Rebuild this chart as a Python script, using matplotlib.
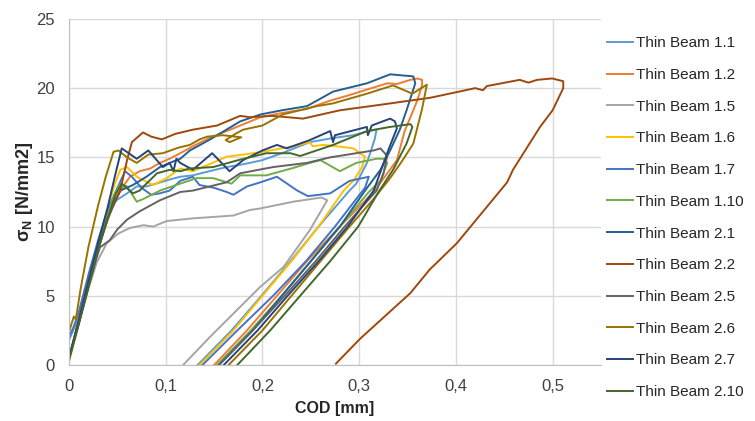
import matplotlib.pyplot as plt
from matplotlib.ticker import FuncFormatter

plt.rcParams['font.family'] = ['Liberation Sans', 'DejaVu Sans']

# test data: crack opening displacement [mm] and nominal stress [N/mm2]
cod_1_1 = [0, 0.01, 0.02, 0.03, 0.038, 0.042, 0.049, 0.06, 0.07, 0.08, 0.09, 0.104, 0.115, 0.128, 0.145, 0.163, 0.18, 0.2, 0.22, 0.249, 0.273, 0.294, 0.31, 0.318,
           0.316, 0.308, 0.297, 0.29, 0.258, 0.229, 0.199, 0.168, 0.133]
sn_1_1 = [1.8, 3.4, 6.0, 8.6, 10.3, 11.4, 11.9, 12.4, 12.9, 12.9, 13.1, 13.4, 13.6, 13.7, 14.0, 14.3, 14.5, 14.8, 15.3, 16.1, 16.4, 16.6, 16.9, 17.0,
          16.3, 14.6, 13.1, 12.6, 10.0, 7.5, 5.0, 2.5, 0]

cod_1_2 = [0, 0.01, 0.02, 0.03, 0.04, 0.05, 0.058, 0.063, 0.073, 0.084, 0.094, 0.104, 0.115, 0.128, 0.145, 0.163, 0.177, 0.198, 0.22, 0.246, 0.27, 0.29, 0.308, 0.329, 0.339, 0.353, 0.36, 0.365, 0.365,
           0.36, 0.353, 0.347, 0.339, 0.315, 0.28, 0.246, 0.215, 0.184, 0.15]
sn_1_2 = [0.5, 3.2, 5.8, 8.5, 10.8, 12.2, 13.1, 13.6, 14.0, 14.2, 14.6, 14.9, 15.3, 15.8, 16.4, 16.9, 17.3, 17.9, 18.2, 18.5, 19.1, 19.5, 19.9, 20.35, 20.3, 20.6, 20.7, 20.6, 20.2,
          19.1, 17.9, 16.9, 14.8, 12.5, 10.0, 7.5, 5.0, 2.5, 0]

cod_1_5 = [0, 0.01, 0.02, 0.0286, 0.039, 0.051, 0.063, 0.077, 0.087, 0.101, 0.129, 0.15, 0.17, 0.187, 0.197, 0.232, 0.261, 0.267,
           0.249, 0.222, 0.197, 0.187, 0.146, 0.118]
sn_1_5 = [0.5, 3.0, 5.5, 7.4, 8.8, 9.5, 9.9, 10.1, 10.0, 10.4, 10.6, 10.7, 10.8, 11.2, 11.3, 11.8, 12.1, 11.9,
          9.75, 7.1, 5.6, 4.9, 2.05, 0]

cod_1_6 = [0, 0.01, 0.02, 0.03, 0.04, 0.047, 0.053, 0.06, 0.07, 0.084, 0.087, 0.101, 0.115, 0.128, 0.145, 0.163, 0.18, 0.2, 0.232, 0.249, 0.252, 0.263, 0.277, 0.294, 0.299, 0.306,
           0.303, 0.295, 0.284, 0.277, 0.258, 0.23, 0.2, 0.17, 0.135]
sn_1_6 = [0.5, 3.2, 6.0, 8.8, 11.3, 13.0, 14.1, 14.3, 13.6, 13.1, 13.0, 13.5, 14.2, 14.0, 14.5, 15.05, 15.2, 15.4, 15.8, 16.1, 15.8, 15.9, 15.8, 15.65, 15.4, 15.05,
          14.3, 13.4, 12.6, 11.9, 10.0, 7.5, 5.0, 2.5, 0]

cod_1_7 = [0, 0.005, 0.01, 0.02, 0.03, 0.04, 0.05, 0.058, 0.065, 0.075, 0.085, 0.094, 0.104, 0.115, 0.128, 0.135, 0.15, 0.163, 0.17, 0.184, 0.198, 0.215, 0.236, 0.247, 0.27, 0.29, 0.31,
           0.306, 0.297, 0.275, 0.245, 0.211, 0.174, 0.138]
sn_1_7 = [2.0, 2.8, 3.8, 6.5, 9.0, 11.2, 12.8, 14.0, 13.6, 12.8, 12.3, 12.4, 12.6, 13.3, 13.6, 13.0, 12.8, 12.5, 12.3, 12.9, 13.2, 13.6, 12.6, 12.2, 12.4, 13.3, 13.6,
          12.8, 12.0, 10.0, 7.5, 5.0, 2.5, 0]

cod_1_10 = [0, 0.01, 0.02, 0.03, 0.04, 0.047, 0.053, 0.06, 0.07, 0.077, 0.094, 0.115, 0.132, 0.149, 0.168, 0.177, 0.204, 0.23, 0.249, 0.26, 0.28, 0.297, 0.318, 0.325, 0.329,
            0.322, 0.31, 0.28, 0.25, 0.22, 0.188, 0.153]
sn_1_10 = [0.5, 3.0, 5.7, 8.4, 10.8, 12.3, 13.1, 12.9, 11.8, 12.0, 12.6, 13.1, 13.5, 13.5, 13.1, 13.7, 13.7, 14.2, 14.6, 14.8, 14.0, 14.6, 14.9, 14.9, 14.6,
           13.3, 12.5, 10.0, 7.5, 5.0, 2.5, 0]

cod_2_1 = [0, 0.01, 0.02, 0.03, 0.04, 0.053, 0.066, 0.08, 0.094, 0.104, 0.115, 0.125, 0.146, 0.177, 0.198, 0.22, 0.246, 0.273, 0.308, 0.332, 0.356, 0.358,
           0.349, 0.342, 0.332, 0.322, 0.305, 0.28, 0.25, 0.22, 0.19, 0.155]
sn_2_1 = [0.5, 3.0, 5.7, 8.3, 10.6, 12.6, 13.0, 13.6, 14.3, 14.6, 14.9, 15.5, 16.3, 17.6, 18.1, 18.4, 18.7, 19.75, 20.35, 21.0, 20.85, 20.35,
          18.4, 17.0, 15.5, 14.1, 12.5, 10.0, 7.5, 5.0, 2.5, 0]

cod_2_2 = [0, 0.01, 0.02, 0.03, 0.04, 0.047, 0.053, 0.06, 0.065, 0.0765, 0.085, 0.096, 0.11, 0.128, 0.153, 0.177, 0.187, 0.21, 0.242, 0.28, 0.322, 0.373, 0.42, 0.428, 0.432, 0.466, 0.475, 0.484, 0.4995, 0.511, 0.511,
           0.5, 0.487, 0.459, 0.453, 0.401, 0.373, 0.353, 0.301, 0.276]
sn_2_2 = [0.5, 3.2, 6.0, 8.5, 10.5, 11.8, 12.6, 14.8, 16.1, 16.8, 16.5, 16.3, 16.7, 17.0, 17.3, 18.0, 17.9, 18.0, 17.8, 18.4, 18.8, 19.3, 20.0, 19.85, 20.15, 20.6, 20.4, 20.6, 20.7, 20.5, 20.0,
          18.4, 17.2, 14.1, 13.2, 8.8, 6.9, 5.2, 1.9, 0.1]

cod_2_5 = [0, 0.01, 0.02, 0.027, 0.032, 0.042, 0.05, 0.06, 0.073, 0.094, 0.115, 0.128, 0.163, 0.177, 0.211, 0.246, 0.27, 0.297, 0.315, 0.322, 0.329,
           0.325, 0.318, 0.285, 0.255, 0.223, 0.19, 0.155]
sn_2_5 = [0.5, 3.0, 5.6, 7.4, 8.5, 9.0, 9.8, 10.5, 11.1, 11.9, 12.5, 12.6, 13.2, 13.85, 14.3, 14.6, 15.0, 15.3, 15.5, 15.65, 15.1,
          13.8, 12.6, 10.0, 7.5, 5.0, 2.5, 0]

cod_2_6 = [0, 0.005, 0.007, 0.012, 0.02, 0.03, 0.038, 0.046, 0.051, 0.06, 0.07, 0.082, 0.097, 0.113, 0.125, 0.135, 0.143, 0.159, 0.178, 0.166, 0.162, 0.172, 0.18, 0.2, 0.221, 0.256, 0.273, 0.308, 0.335, 0.355, 0.37,
           0.365, 0.356, 0.345, 0.332, 0.315, 0.29, 0.26, 0.23, 0.2, 0.165]
sn_2_6 = [2.4, 3.5, 3.3, 5.5, 8.5, 11.5, 13.6, 15.4, 15.5, 15.0, 14.6, 15.2, 15.3, 15.7, 15.9, 16.3, 16.5, 16.6, 16.45, 16.1, 16.25, 16.7, 17.0, 17.3, 18.1, 18.7, 18.9, 19.6, 20.2, 19.6, 20.25,
          18.5, 16.0, 14.8, 13.5, 12.0, 10.0, 7.5, 5.0, 2.5, 0]

cod_2_7 = [0, 0.01, 0.02, 0.03, 0.04, 0.048, 0.0545, 0.07, 0.082, 0.097, 0.104, 0.108, 0.111, 0.115, 0.128, 0.148, 0.166, 0.18, 0.2, 0.215, 0.225, 0.249, 0.27, 0.273, 0.275, 0.308, 0.309, 0.313, 0.332, 0.337, 0.339,
           0.33, 0.315, 0.288, 0.258, 0.226, 0.195, 0.16]
sn_2_7 = [0.5, 3.2, 6.0, 8.8, 11.4, 13.8, 15.65, 14.9, 15.5, 14.3, 14.6, 14.0, 14.9, 14.6, 14.1, 15.3, 14.0, 14.8, 15.5, 15.9, 15.65, 16.25, 16.9, 16.1, 16.6, 17.2, 16.6, 17.3, 17.8, 17.6, 17.1,
          15.5, 12.6, 10.0, 7.5, 5.0, 2.5, 0]

cod_2_10 = [0, 0.01, 0.02, 0.03, 0.04, 0.048, 0.0545, 0.066, 0.073, 0.08, 0.091, 0.104, 0.115, 0.125, 0.149, 0.175, 0.204, 0.229, 0.239, 0.273, 0.308, 0.332, 0.353, 0.355,
            0.349, 0.335, 0.32, 0.299, 0.27, 0.239, 0.208, 0.174]
sn_2_10 = [0.3, 2.9, 5.6, 8.3, 10.6, 12.3, 13.1, 12.4, 12.6, 13.1, 13.85, 14.1, 14.0, 14.2, 14.3, 14.8, 15.3, 15.3, 15.1, 15.9, 16.9, 17.2, 17.4, 17.2,
           16.0, 14.1, 12.5, 10.0, 7.5, 5.0, 2.5, 0]

labels = ['Thin Beam 1.1', 'Thin Beam 1.2', 'Thin Beam 1.5', 'Thin Beam 1.6', 'Thin Beam 1.7', 'Thin Beam 1.10',
          'Thin Beam 2.1', 'Thin Beam 2.2', 'Thin Beam 2.5', 'Thin Beam 2.6', 'Thin Beam 2.7', 'Thin Beam 2.10']
cods = [cod_1_1, cod_1_2, cod_1_5, cod_1_6, cod_1_7, cod_1_10, cod_2_1, cod_2_2, cod_2_5, cod_2_6, cod_2_7, cod_2_10]
sigmas = [sn_1_1, sn_1_2, sn_1_5, sn_1_6, sn_1_7, sn_1_10, sn_2_1, sn_2_2, sn_2_5, sn_2_6, sn_2_7, sn_2_10]
colors = ['#5B9BD5', '#ED7D31', '#A5A5A5', '#FFC000', '#4472C4', '#70AD47',
          '#255E91', '#9E480E', '#636363', '#997300', '#264478', '#43682B']

fig = plt.figure(figsize=(7.55, 4.21), dpi=100)
ax = fig.add_axes([0.0914, 0.133, 0.7046, 0.822])

for x, y, lab, c in zip(cods, sigmas, labels, colors):
    ax.plot(x, y, color=c, lw=1.4, label=lab)

ax.set_xlim(0, 0.55)
ax.set_ylim(0, 25)
ax.set_xticks([0, 0.1, 0.2, 0.3, 0.4, 0.5])
ax.set_yticks([0, 5, 10, 15, 20, 25])
ax.xaxis.set_major_formatter(FuncFormatter(lambda v, p: ('%g' % round(v, 2)).replace('.', ',')))
ax.grid(True, color='#D9D9D9', lw=1)
ax.set_axisbelow(True)
for s in ['top', 'right']:
    ax.spines[s].set_visible(False)
for s in ['left', 'bottom']:
    ax.spines[s].set_color('#BFBFBF')
ax.tick_params(length=0, labelsize=12, colors='#404040')
ax.tick_params(axis='x', pad=10)
ax.tick_params(axis='y', pad=10)

ax.set_xlabel('COD [mm]', fontsize=11.5, fontweight='bold', color='#262626', labelpad=5)
ax.set_ylabel(r'σ$_\mathregular{N}$ [N/mm2]', fontsize=13, fontweight='bold', color='#262626', labelpad=1)

fig.legend(loc='upper left', bbox_to_anchor=(0.804, 0.914), frameon=False, fontsize=11,
           borderaxespad=0, borderpad=0, handlelength=1.7, handletextpad=0.2,
           labelspacing=1.16, labelcolor='#262626')

plt.savefig('out.png', dpi=100)
